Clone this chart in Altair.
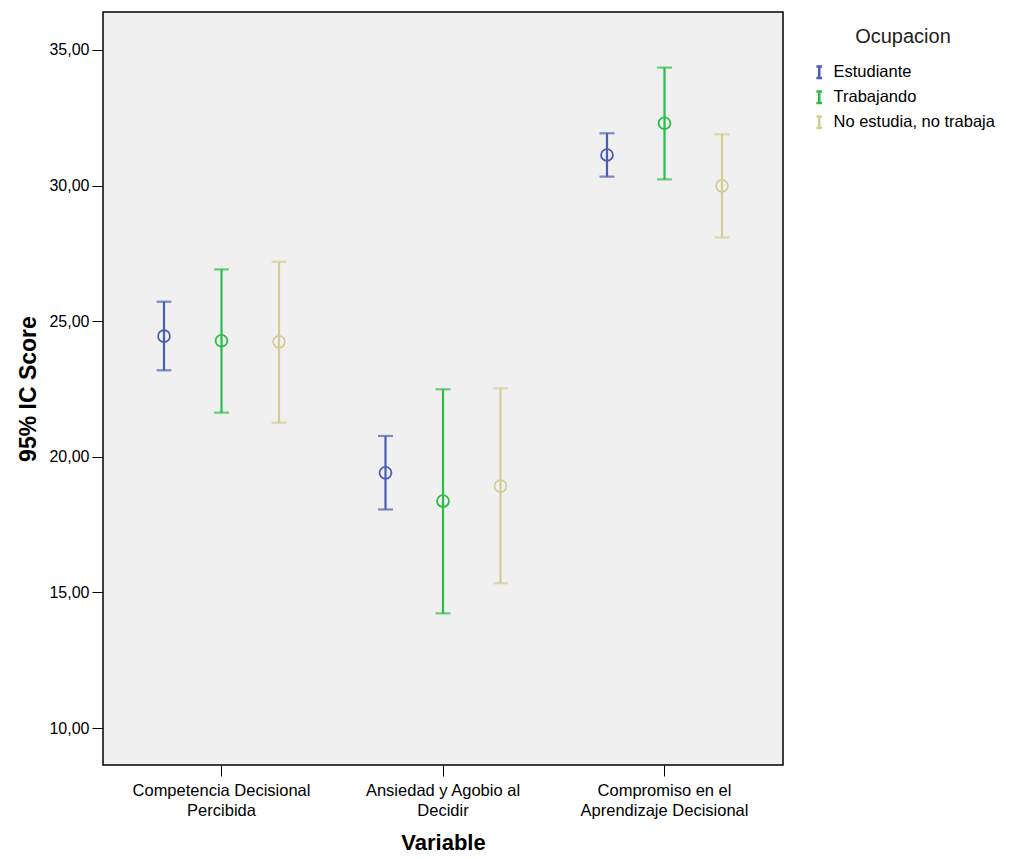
import json
import altair as alt
import pandas as pd

variables = ["Competencia Decisional Percibida", "Ansiedad y Agobio al Decidir",
             "Compromiso en el Aprendizaje Decisional"]
variable_lines = [["Competencia Decisional", "Percibida"],
                  ["Ansiedad y Agobio al", "Decidir"],
                  ["Compromiso en el", "Aprendizaje Decisional"]]
groups = ["Estudiante", "Trabajando", "No estudia, no trabaja"]
colors = ["#4a5db4", "#2bbd45", "#d2cd96"]

# mean / lower / upper per variable (rows) and group (columns)
means = [[24.45, 24.28, 24.24],
         [19.41, 18.37, 18.92],
         [31.13, 32.30, 29.99]]
lowers = [[23.19, 21.63, 21.26],
          [18.06, 14.23, 15.34],
          [30.33, 30.23, 28.09]]
uppers = [[25.72, 26.91, 27.19],
          [20.77, 22.49, 22.53],
          [31.93, 34.35, 31.89]]

rows = []
for i, v in enumerate(variables):
    for j, g in enumerate(groups):
        rows.append({"Variable": v, "Ocupacion": g, "mean": means[i][j],
                     "lo": lowers[i][j], "hi": uppers[i][j]})
df = pd.DataFrame(rows)

label_map = json.dumps({v: l for v, l in zip(variables, variable_lines)})

FONT = "Liberation Sans"

x_enc = alt.X("Variable:N", sort=variables,
              scale=alt.Scale(paddingInner=0, paddingOuter=0.035),
              axis=alt.Axis(title="Variable", labelAngle=0,
                            labelExpr=f"{label_map}[datum.value]",
                            labelFontSize=16.5, labelColor="#000000", labelFont=FONT,
                            labelLineHeight=20, labelPadding=6,
                            tickSize=11, tickColor="#000000", domain=False,
                            titleFontSize=22, titleFontWeight="bold", titleFont=FONT,
                            titleColor="#000000", titlePadding=14))
xo_enc = alt.XOffset("Ocupacion:N", sort=groups,
                     scale=alt.Scale(paddingInner=0, paddingOuter=0.426))
color_scale = alt.Scale(domain=groups, range=colors)
color_enc = alt.Color("Ocupacion:N", sort=groups, scale=color_scale,
                      legend=alt.Legend(title="Ocupacion", orient="none",
                                        legendX=708, legendY=15,
                                        titleFontSize=20, titleFontWeight="normal",
                                        titleFont=FONT, titleColor="#222222",
                                        titleAnchor="middle", titlePadding=17,
                                        labelFontSize=16.5, labelFont=FONT, labelColor="#000000",
                                        labelLimit=400,
                                        symbolType="M-0.5,-1H0.5M0,-1V1M-0.5,1H0.5",
                                        symbolSize=130, symbolStrokeWidth=2.5,
                                        rowPadding=3, labelOffset=6))
color_nolegend = alt.Color("Ocupacion:N", sort=groups, scale=color_scale, legend=None)
y_scale = alt.Scale(domain=[8.64, 36.4], nice=False, zero=False)
y_axis = alt.Axis(title="95% IC Score", values=[10, 15, 20, 25, 30, 35],
                  labelExpr="replace(format(datum.value, '.2f'), '.', ',')",
                  labelFontSize=16, labelFont=FONT, labelColor="#000000",
                  labelPadding=3,
                  tickSize=11, tickColor="#000000", domain=False, grid=False,
                  titleFontSize=23, titleFontWeight="bold", titleFont=FONT,
                  titleColor="#000000", titleX=-75, titleBaseline="middle")

base = alt.Chart(df)

rule = base.mark_rule(strokeWidth=2.2).encode(
    x=x_enc, xOffset=xo_enc,
    y=alt.Y("lo:Q", scale=y_scale, axis=y_axis), y2="hi:Q",
    color=color_enc)
cap_lo = base.mark_tick(size=15, thickness=2.2).encode(
    x=x_enc, xOffset=xo_enc, y=alt.Y("lo:Q", scale=y_scale), color=color_nolegend)
cap_hi = base.mark_tick(size=15, thickness=2.2).encode(
    x=x_enc, xOffset=xo_enc, y=alt.Y("hi:Q", scale=y_scale), color=color_nolegend)
pts = base.mark_point(shape="circle", filled=False, size=140, strokeWidth=1.8, opacity=1).encode(
    x=x_enc, xOffset=xo_enc, y=alt.Y("mean:Q", scale=y_scale), color=color_nolegend)

chart = alt.layer(rule, cap_lo, cap_hi, pts).properties(
    width=680, height=753,
    autosize=alt.AutoSizeParams(type="none"),
    padding={"left": 103, "top": 12, "right": 234, "bottom": 94},
    background="#ffffff",
).configure_view(fill="#f0f0f0", stroke="#000000", strokeWidth=1.5)

chart.save("out.html", embed_options={"renderer": "svg", "actions": False})
